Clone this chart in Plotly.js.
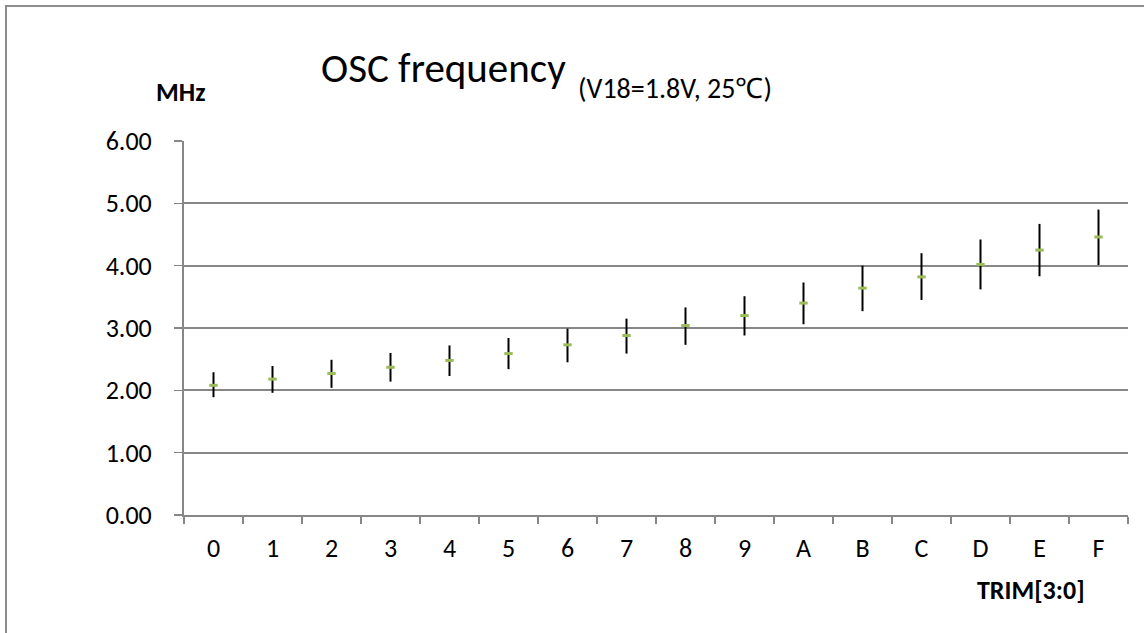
<!DOCTYPE html>
<html>
<head>
<meta charset="utf-8">
<script src="https://cdn.plot.ly/plotly-3.0.1.min.js"></script>
<style>
html,body{margin:0;padding:0;background:#fff;}
#wrap{position:relative;width:1144px;height:633px;overflow:hidden;}
#chart{width:1144px;height:633px;}
#frame{position:absolute;left:5px;top:5px;width:1200px;height:700px;border-left:2px solid #8c8c8c;border-top:2px solid #8c8c8c;pointer-events:none;}
</style>
</head>
<body>
<div id="wrap"><div id="chart"></div><div id="frame"></div></div>
<script>
const trimCodes = ['0','1','2','3','4','5','6','7','8','9','A','B','C','D','E','F'];
const freqTyp = [2.08, 2.18, 2.27, 2.37, 2.48, 2.59, 2.73, 2.88, 3.04, 3.20, 3.40, 3.64, 3.82, 4.02, 4.25, 4.46];
const freqMax = [2.29, 2.39, 2.49, 2.60, 2.72, 2.84, 2.99, 3.15, 3.33, 3.51, 3.73, 4.00, 4.20, 4.42, 4.67, 4.90];
const freqMin = [1.89, 1.96, 2.04, 2.14, 2.23, 2.34, 2.45, 2.59, 2.73, 2.88, 3.06, 3.27, 3.45, 3.62, 3.83, 4.01];
const yTickVals = [0, 1, 2, 3, 4, 5, 6];

const FONT = 'Carlito, Calibri, Lato, sans-serif';

const trace = {
  type: 'scatter',
  mode: 'markers',
  x: trimCodes,
  y: freqTyp,
  marker: {symbol: 'line-ew', size: 6, color: '#9bbb59', line: {color: '#9bbb59', width: 3}},
  error_y: {
    type: 'data', symmetric: false,
    array: freqMax.map((v, i) => v - freqTyp[i]),
    arrayminus: freqTyp.map((v, i) => v - freqMin[i]),
    width: 0, thickness: 2, color: '#000'
  },
  showlegend: false,
  hoverinfo: 'x+y'
};

const layout = {
  width: 1144, height: 633,
  margin: {l: 184, r: 16, t: 141, b: 118},
  paper_bgcolor: '#fff', plot_bgcolor: '#fff',
  font: {family: FONT, color: '#000', size: 26},
  xaxis: {
    type: 'category',
    categoryorder: 'array', categoryarray: trimCodes,
    range: [-0.5, trimCodes.length - 0.5], autorange: false,
    showgrid: false, zeroline: false,
    showline: true, linecolor: '#878787', linewidth: 2,
    ticks: 'outside', tickson: 'boundaries', ticklen: 7, tickwidth: 1.5, tickcolor: '#878787',
    tickfont: {family: FONT, size: 26, color: '#000'},
    ticklabelstandoff: 9
  },
  yaxis: {
    range: [0, 6], autorange: false, tickvals: yTickVals, tickformat: '.2f',
    showgrid: true, gridcolor: '#878787', gridwidth: 2,
    zeroline: false,
    showline: true, linecolor: '#878787', linewidth: 2,
    ticks: 'outside', ticklen: 8, tickwidth: 1.5, tickcolor: '#878787',
    tickfont: {family: FONT, size: 26, color: '#000'},
    ticklabelstandoff: 17
  },
  annotations: [
    {text: 'OSC frequency', xref: 'paper', yref: 'paper', x: (319 - 184) / 944, y: (515 - 95) / 374,
     xanchor: 'left', yanchor: 'bottom', showarrow: false, font: {family: FONT, size: 41, color: '#000'}},
    {text: '(V18=1.8V, 25℃)', xref: 'paper', yref: 'paper', x: (576 - 184) / 944, y: (515 - 108) / 374,
     xanchor: 'left', yanchor: 'bottom', showarrow: false, font: {family: FONT, size: 28, color: '#000'}},
    {text: '<b>MHz</b>', xref: 'paper', yref: 'paper', x: (180 - 184) / 944, y: (515 - 92) / 374,
     xanchor: 'center', yanchor: 'middle', showarrow: false, font: {family: FONT, size: 26, color: '#000'}},
    {text: '<b>TRIM[3:0]</b>', xref: 'paper', yref: 'paper', x: (1031 - 184) / 944, y: (515 - 590) / 374,
     xanchor: 'center', yanchor: 'middle', showarrow: false, font: {family: FONT, size: 26, color: '#000'}}
  ]
};

Plotly.newPlot('chart', [trace], layout, {displayModeBar: false, staticPlot: true});
</script>
</body>
</html>
